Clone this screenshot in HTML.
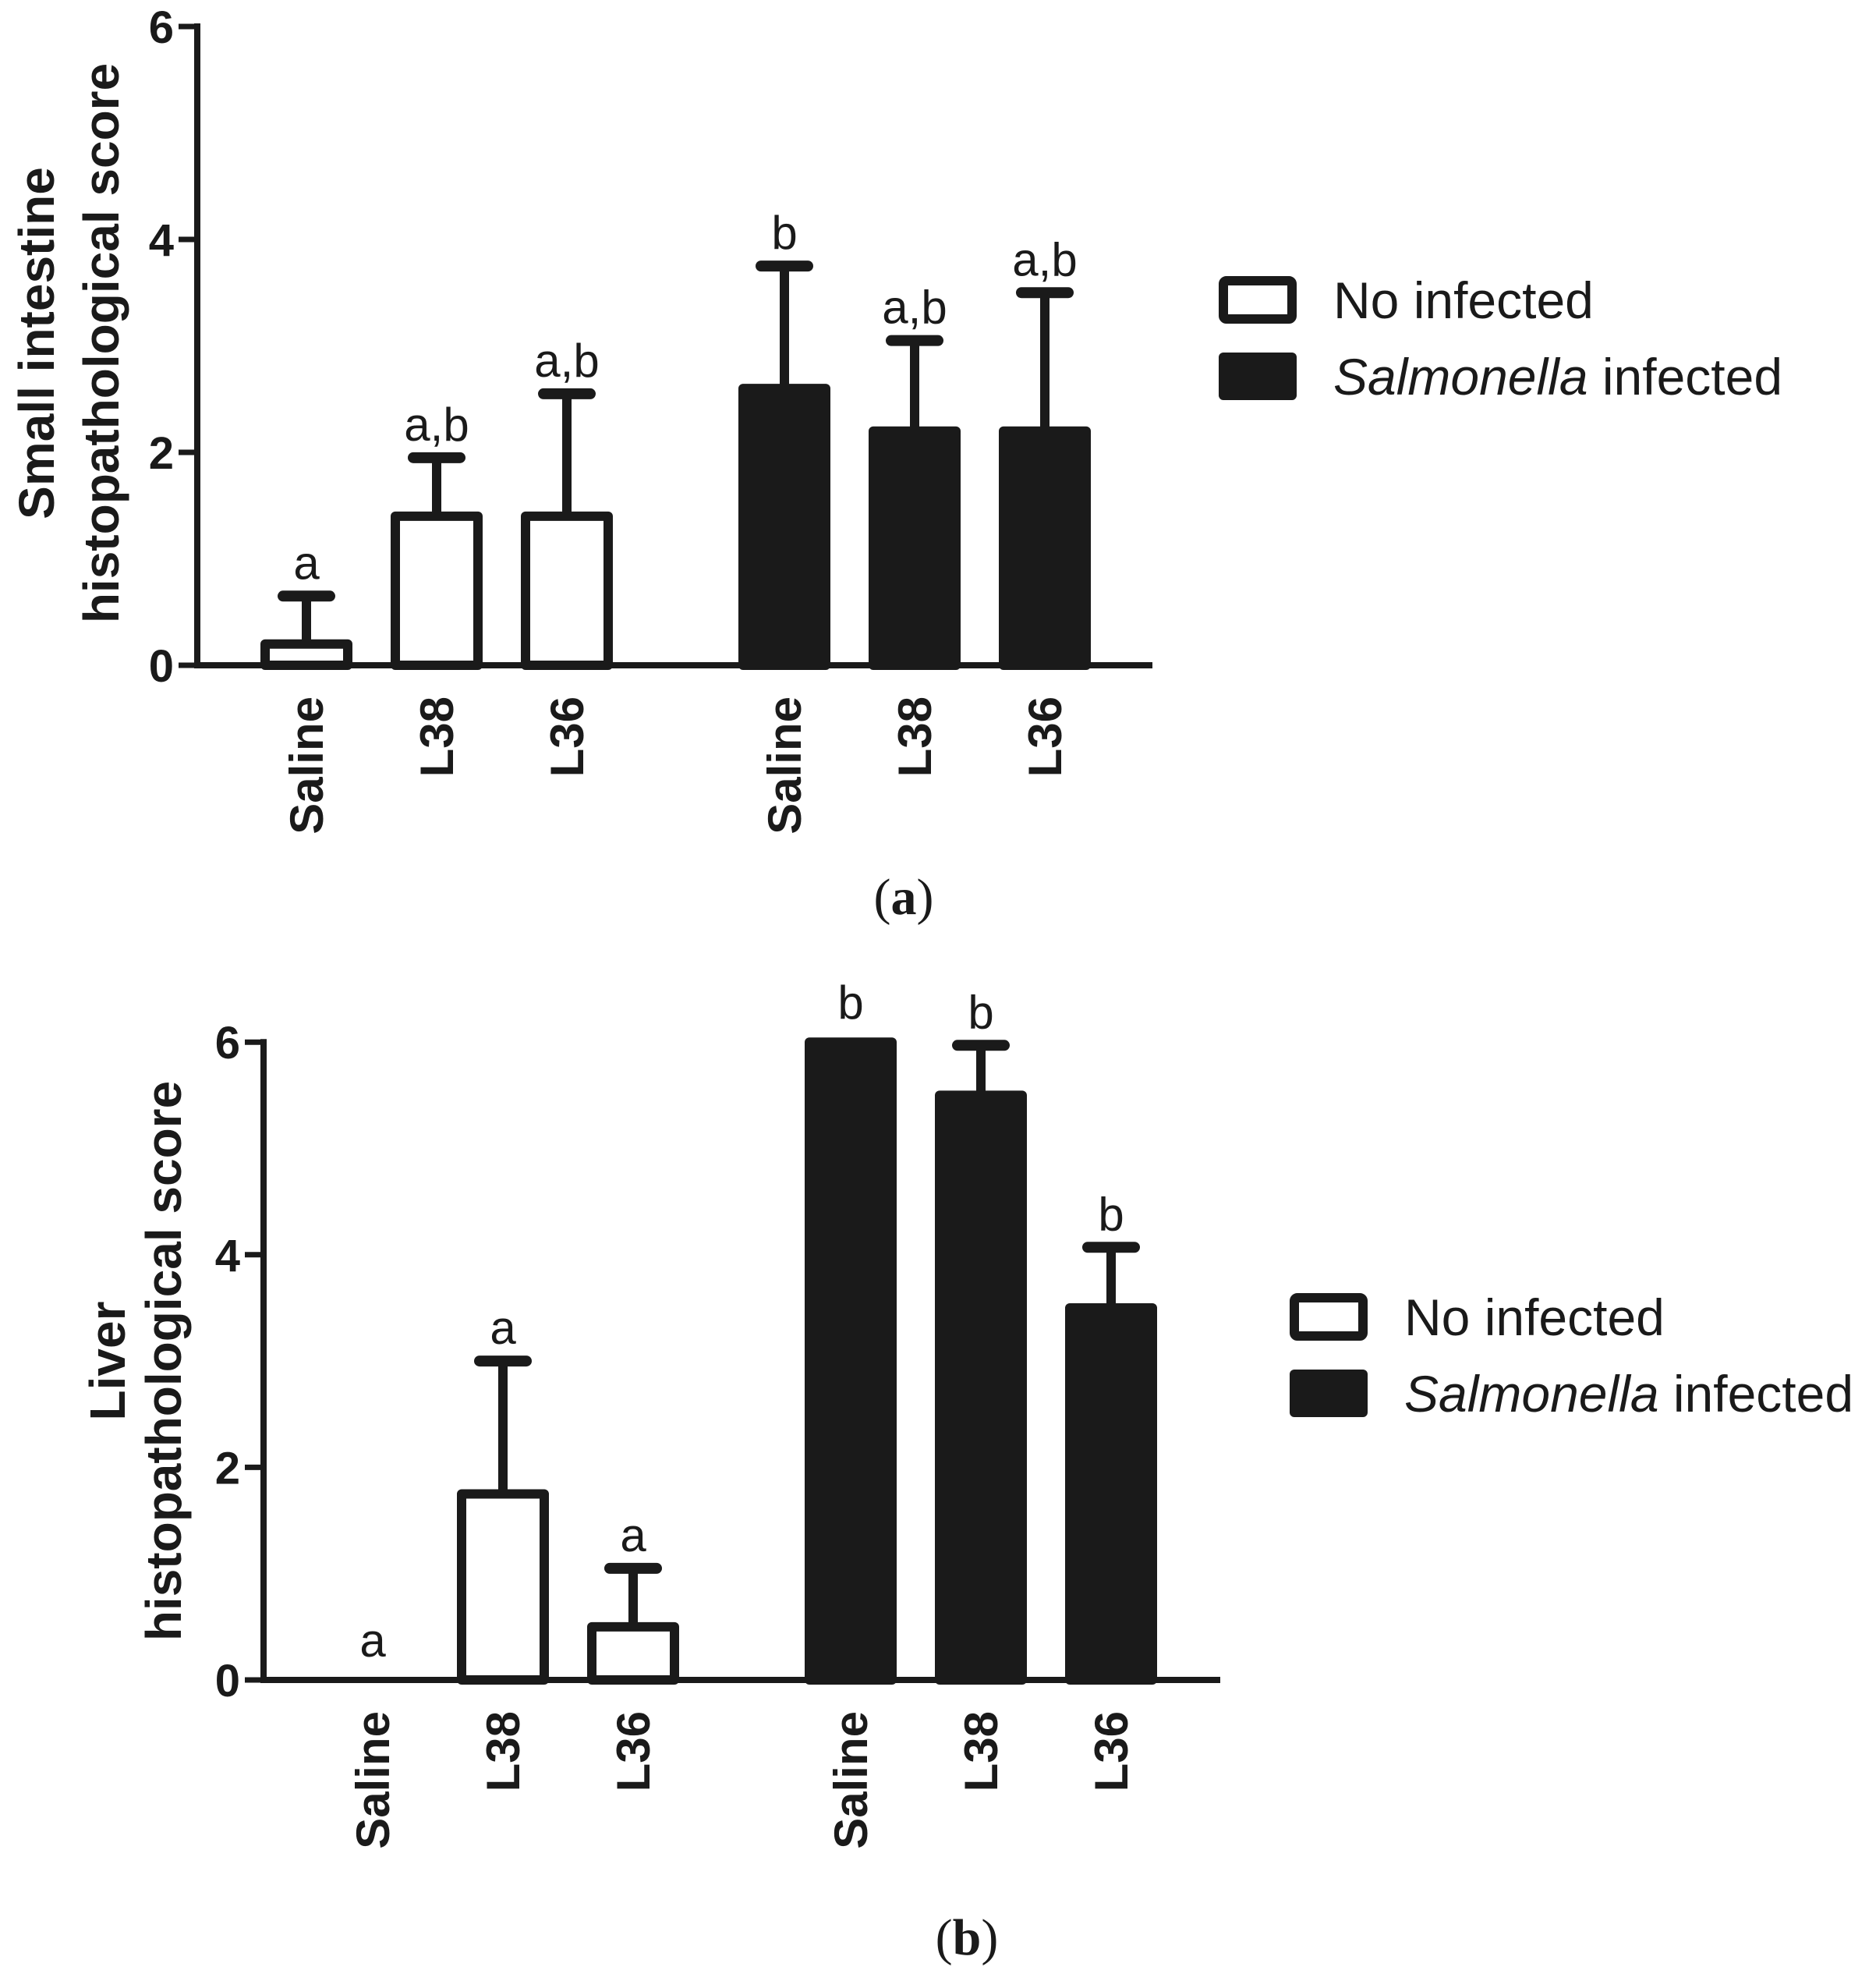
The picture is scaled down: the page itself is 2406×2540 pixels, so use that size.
<!DOCTYPE html>
<html><head><meta charset="utf-8">
<style>
html,body{margin:0;padding:0;background:#fff;}
svg{display:block;}
text{font-family:"Liberation Sans",Arial,sans-serif;fill:#1a1a1a;}
</style></head>
<body>
<svg id="fig" width="2406" height="2540" viewBox="0 0 2406 2540" xmlns="http://www.w3.org/2000/svg">
<text x="1159" y="1172" style="font-family:'Liberation Serif',serif" font-size="66" text-anchor="middle">(<tspan font-weight="bold">a</tspan>)</text>
<text x="1240" y="2506" style="font-family:'Liberation Serif',serif" font-size="66" text-anchor="middle">(<tspan font-weight="bold">b</tspan>)</text>
</svg>
<script>
const categories = ["Saline","L38","L36","Saline","L38","L36"];
const groupFill = ["white","white","white","black","black","black"];
const yTicks = [0,2,4,6];
const valuesA = [0.2,1.4,1.4,2.6,2.2,2.2];
const errTopA = [0.65,1.95,2.55,3.75,3.05,3.5];
const lettersA = ["a","a,b","a,b","b","a,b","a,b"];
const valuesB = [0,1.75,0.5,6,5.5,3.5];
const errTopB = [null,3.0,1.05,null,5.97,4.07];
const lettersB = ["a","a","a","b","b","b"];
const catOffsets = [140,307,474,753,920,1087];

const svg = document.getElementById('fig');
const NS = 'http://www.w3.org/2000/svg';
const C = '#1a1a1a';
function mk(tag, attrs, parent){
  const e = document.createElementNS(NS, tag);
  for (const k in attrs) e.setAttribute(k, attrs[k]);
  (parent||svg).appendChild(e);
  return e;
}

function chart(cfg){
  const g = mk('g', {});
  
  
  const yS = v => cfg.y0 - v * cfg.unit;
  const xS = i => cfg.ax + catOffsets[i];
  const bw = 106;
  cfg.values.forEach((v,i)=>{
    const cx = xS(i);
    const filled = groupFill[i] === 'black';
    if (v > 0) {
      const r = mk('rect', {x: cx-bw/2, y: yS(v), width: bw, height: yS(0)-yS(v),
        fill: filled ? C : '#fff', stroke: C, 'stroke-width': 12, 'stroke-linejoin':'round'}, g);
      
      
    }
    const et = cfg.err[i];
    if (et !== null && et !== undefined) {
      const l = mk('line', {x1: cx, x2: cx, y1: yS(v), y2: yS(et), stroke: C, 'stroke-width': 12}, g);
      
      
      const cap = mk('line', {x1: cx-30, x2: cx+30, y1: yS(et), y2: yS(et), stroke: C, 'stroke-width': 14, 'stroke-linecap':'round'}, g);
      
      
    }
    const top = (et !== null && et !== undefined) ? et : v;
    const t = mk('text', {x: cx, y: yS(top) - (et!=null ? 22 : 30), 'font-size': 60, 'text-anchor':'middle'}, g);
    t.textContent = cfg.letters[i];
    
    
    const cl = mk('text', {x: 0, y: 0, 'font-size': 60, 'font-weight':'bold', 'text-anchor':'end',
      transform: `translate(${cx+21},${yS(0)+40}) rotate(-90)`}, g);
    cl.textContent = categories[i];
    
    
  });
  const ya = mk('line', {x1: cfg.ax, x2: cfg.ax, y1: yS(6)-4, y2: yS(0)+4, stroke: C, 'stroke-width': 8}, g);
  
  
  const xa = mk('line', {x1: cfg.ax-4, x2: cfg.xEnd, y1: yS(0), y2: yS(0), stroke: C, 'stroke-width': 8}, g);
  
  
  yTicks.forEach(tv=>{
    const tk = mk('line', {x1: cfg.ax-24, x2: cfg.ax, y1: yS(tv), y2: yS(tv), stroke: C, 'stroke-width': 7}, g);
    
    
    const tl = mk('text', {x: cfg.ax-30, y: yS(tv)+21, 'font-size': 58, 'font-weight':'bold', 'text-anchor':'end'}, g);
    tl.textContent = tv;
    
    
  });
  cfg.title.forEach((line,k)=>{
    const tt = mk('text', {x:0, y:0, 'font-size': 64, 'font-weight':'bold', 'text-anchor':'middle',
      transform: `translate(${cfg.titleX[k]+23},${cfg.titleY}) rotate(-90)`}, g);
    tt.textContent = line;
    
    
  });
  const lg = mk('g', {}, g);
  
  
  const b1 = mk('rect', {x: cfg.lx+6, y: cfg.ly+6, width: 88, height: 49, rx: 4, fill:'#fff', stroke:C, 'stroke-width':12}, lg);
  
  
  const b2 = mk('rect', {x: cfg.lx, y: cfg.ly+98, width: 100, height: 61, rx: 6, fill:C}, lg);
  
  
  const t1 = mk('text', {x: cfg.lx+147, y: cfg.ly+54, 'font-size': 66}, lg);
  t1.textContent = 'No infected';
  
  
  const t2 = mk('text', {x: cfg.lx+147, y: cfg.ly+152, 'font-size': 66}, lg);
  t2.innerHTML = '<tspan font-style="italic">Salmonella</tspan> infected';
  
  
}

chart({name:'chart-small-intestine', ax:253, y0:853, unit:136.5, xEnd:1478,
  values:valuesA, err:errTopA, letters:lettersA,
  title:['Small intestine','histopathological score'], titleX:[46,129], titleY:440,
  lx:1563, ly:354});
chart({name:'chart-liver', ax:338, y0:2154, unit:136.3, xEnd:1565,
  values:valuesB, err:errTopB, letters:lettersB,
  title:['Liver','histopathological score'], titleX:[137,209], titleY:1745,
  lx:1654, ly:1658});
</script>
</body></html>
